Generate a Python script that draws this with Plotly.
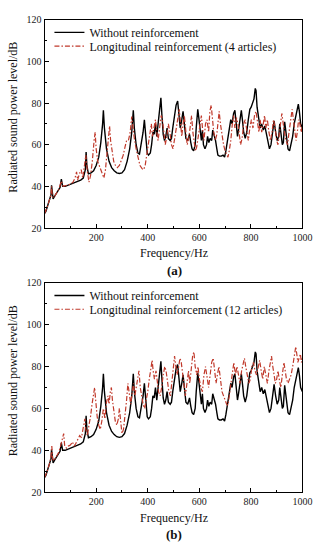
import plotly.graph_objects as go

# ---- data ----
freq_base = [0, 5, 10, 15, 20, 25, 27, 30, 33, 40, 50, 60, 65, 70, 80, 90, 100, 110, 120, 130, 140, 150,
             158, 161, 164, 170, 180, 190, 200, 210, 218, 225, 228, 232, 240, 250, 260, 270, 280, 290, 300,
             310, 320, 330, 338, 344, 348, 355, 362, 368, 375, 382, 387, 392, 398, 403, 410, 415, 420, 425,
             430, 435, 440, 446, 451, 455, 460, 465, 470, 475, 480, 487, 492, 497, 503, 510, 516, 520, 526,
             532, 537, 542, 548, 555, 562, 567, 572, 578, 584, 588, 594, 598, 604, 608, 612, 616, 622, 628,
             632, 637, 642, 648, 652, 658, 663, 668, 672, 678, 685, 692, 698, 703, 710, 716, 722, 727, 733,
             738, 742, 748, 752, 758, 763, 768, 772, 778, 784, 790, 796, 801, 806, 812, 817, 820, 824, 830,
             836, 842, 848, 854, 859, 864, 868, 872, 878, 884, 890, 896, 902, 908, 912, 916, 922, 926, 931,
             938, 944, 950, 955, 962, 968, 974, 979, 984, 988, 993, 1000]
level_base = [27, 28, 30, 32, 34, 36, 40.5, 35, 34, 35.5, 37.5, 39.5, 43.5, 40, 40, 40.5, 41, 41.5, 42, 42.5, 43, 44,
              48, 56.5, 50, 46, 46.5, 47.5, 50, 54, 61, 70, 76.5, 68, 58, 52, 49, 47.5, 46.5, 46.2, 46.5,
              48, 52, 58, 66, 76.5, 68, 60, 56, 55.5, 60, 66, 72, 63, 56, 55, 56, 60, 66, 65,
              70, 64, 70, 76, 82.5, 74, 65, 62, 64, 68, 63, 62, 63, 68, 74, 79, 81, 75, 68,
              72, 76, 70, 63, 62, 65, 61, 58, 57, 60, 68, 77, 73, 66, 62, 67, 60, 58, 60,
              64, 61, 63, 62, 67, 64, 62, 58, 55, 54.5, 54.5, 55, 54, 57, 62, 67, 72, 70, 75,
              76.5, 72, 64, 67, 74, 76.5, 71, 66, 63, 66, 72, 77, 78, 80, 82, 87, 86, 78, 72,
              68, 70, 67, 69, 66, 64, 60, 58, 60, 66, 71.5, 66, 62, 64, 70, 66, 60, 61, 71, 64,
              58, 57, 60, 64, 70, 74, 77, 79.5, 76, 70, 68, 68]

freq_4 = [0, 10, 20, 25, 27, 30, 35, 45, 55, 65, 72, 85, 100, 110, 118, 124, 128, 135, 142, 148, 155, 160,
          166, 172, 178, 185, 192, 196, 200, 206, 212, 218, 224, 230, 236, 242, 248, 252, 256, 262, 268,
          275, 282, 290, 297, 305, 312, 318, 325, 332, 338, 342, 348, 355, 362, 370, 378, 384, 390, 396,
          402, 408, 414, 418, 424, 430, 435, 440, 446, 452, 457, 462, 468, 474, 480, 486, 492, 498, 504,
          510, 516, 522, 527, 532, 537, 542, 548, 553, 559, 565, 570, 575, 580, 585, 590, 596, 602, 608,
          613, 618, 624, 630, 636, 641, 646, 650, 656, 662, 668, 672, 677, 682, 688, 694, 700, 706, 711,
          716, 722, 728, 733, 738, 744, 750, 755, 760, 766, 772, 778, 784, 790, 796, 802, 808, 814, 820,
          826, 831, 836, 842, 848, 853, 858, 864, 870, 876, 882, 888, 894, 900, 905, 910, 915, 920, 925,
          930, 936, 942, 948, 954, 960, 965, 970, 975, 980, 985, 990, 995, 1000]
level_4 = [27, 30, 34, 36, 40, 35, 34.5, 36.5, 38.5, 42.5, 40, 40.5, 41, 42, 44, 47, 43, 46, 48, 44, 50, 55,
           47, 42, 45, 52, 62, 66, 58, 52, 50, 48, 46, 44, 48, 56, 64, 69, 62, 56, 52,
           50, 49, 50, 52, 55, 59, 62, 62, 66, 73.5, 68, 63, 58, 54, 50, 48.5, 48, 50, 55,
           60, 66, 70, 64, 68, 72, 66, 62, 68, 74, 72, 66, 60, 64, 70, 66, 60, 58, 62,
           68, 72, 77, 70, 64, 70, 74, 66, 60, 63, 70, 74, 66, 60, 57, 59, 64, 70, 74,
           67, 62, 70, 72, 66, 76, 79, 72, 66, 62, 65, 70, 76, 70, 64, 60, 57, 55, 54,
           57, 62, 70, 74, 68, 73, 70, 65, 60, 63, 70, 72, 66, 62, 68, 72, 68, 74, 76,
           70, 66, 72, 66, 70, 74, 68, 72, 66, 62, 66, 72, 68, 62, 60, 64, 70, 75, 70,
           66, 62, 60, 66, 72, 77, 72, 66, 62, 66, 72, 70, 66, 70]

freq_12 = [0, 10, 20, 25, 28, 31, 36, 45, 55, 62, 68, 74, 78, 85, 92, 100, 108, 114, 120, 128, 136, 143,
           150, 156, 160, 166, 172, 178, 184, 190, 194, 198, 204, 210, 216, 222, 228, 234, 240, 246, 250,
           255, 259, 263, 268, 274, 280, 286, 290, 294, 300, 306, 312, 318, 323, 328, 334, 340, 345, 350,
           355, 360, 366, 371, 376, 382, 388, 394, 400, 406, 412, 417, 421, 426, 432, 437, 442, 448, 454,
           460, 466, 471, 476, 482, 488, 494, 499, 504, 509, 514, 520, 525, 530, 535, 540, 546, 552, 558,
           563, 568, 574, 579, 584, 590, 595, 600, 606, 612, 618, 624, 630, 636, 642, 648, 654, 660, 665,
           670, 676, 682, 688, 694, 700, 706, 711, 716, 722, 728, 734, 740, 746, 752, 758, 764, 770, 775,
           780, 786, 792, 798, 804, 810, 816, 822, 828, 834, 840, 846, 852, 858, 864, 870, 876, 880, 885,
           890, 895, 900, 905, 910, 916, 922, 928, 933, 938, 944, 950, 956, 962, 968, 974, 978, 982, 987,
           992, 996, 1000]
level_12 = [27, 30, 34, 37, 42, 36, 35, 37, 39, 42, 45, 48, 42, 41, 42, 42.5, 44, 42, 43, 45, 47, 46,
            51, 55, 50, 47, 52, 56, 62, 68, 70, 64, 56, 52, 50, 54, 60, 55, 63, 66, 62,
            68, 70, 64, 58, 54, 52, 55, 60, 56, 48, 50, 56, 64, 72, 66, 62, 68, 72, 66,
            70, 74, 78, 70, 66, 62, 60, 64, 68, 74, 80, 83, 78, 74, 78, 74, 68, 66, 70,
            76, 80, 78, 72, 68, 66, 74, 82, 85, 80, 76, 80, 84, 82, 76, 70, 66, 72, 78,
            72, 80, 85, 87, 80, 76, 80, 74, 70, 68, 76, 80, 74, 70, 76, 82, 84, 78, 72,
            76, 80, 74, 68, 66, 64, 62, 61.5, 66, 72, 78, 82, 76, 80, 76, 72, 78, 82, 84,
            80, 76, 72, 74, 80, 82, 78, 76, 80, 83, 78, 74, 80, 76, 72, 78, 82, 85, 80,
            76, 72, 74, 78, 74, 70, 76, 82, 78, 74, 72, 74, 76, 80, 85, 89.5, 86, 82, 84,
            86, 82, 84]

x_ticks = [200, 400, 600, 800, 1000]
y_ticks = [20, 40, 60, 80, 100, 120]
names = ["Without reinforcement", "Longitudinal reinforcement (4 articles)", "Longitudinal reinforcement (12 articles)"]
panel_labels = ["(a)", "(b)"]

W, H = 327, 550
FONT = "Liberation Serif"
BLACK = "#000000"
RED = "#c0392b"

fig = go.Figure()

xdom = [46 / W, 312 / W]
ydoms = [[1 - 227 / H, 1 - 14 / H], [1 - 497 / H, 1 - 283 / H]]
legend_centers = [(27, 41), (296, 310)]

series = [(freq_4, level_4, names[1]), (freq_12, level_12, names[2])]
legend_layouts = {}
for i, (fr, lv, nm) in enumerate(series):
    ax = "" if i == 0 else str(i + 1)
    lg_a = "legend" if i == 0 else "legend3"
    lg_b = "legend2" if i == 0 else "legend4"
    fig.add_trace(go.Scatter(x=freq_base, y=level_base, mode="lines", name=names[0],
                             line=dict(color=BLACK, width=1.4), xaxis="x" + ax, yaxis="y" + ax,
                             legend=lg_a))
    fig.add_trace(go.Scatter(x=fr, y=lv, mode="lines", name=nm,
                             line=dict(color=RED, width=1.2, dash="5px,2px,1.5px,2px"),
                             xaxis="x" + ax, yaxis="y" + ax, legend=lg_b))
    legend_layouts[lg_a] = legend_centers[i][0]
    legend_layouts[lg_b] = legend_centers[i][1]

axis_common = dict(showline=True, linecolor="black", linewidth=1, mirror=True, showgrid=False,
                   zeroline=False, ticks="inside", ticklen=4, tickcolor="black", tickwidth=1,
                   tickfont=dict(family=FONT, size=10, color="#222"))

layout = dict(width=W, height=H, margin=dict(l=0, r=0, t=0, b=0), paper_bgcolor="white",
              plot_bgcolor="white", showlegend=True, font=dict(family=FONT, color="#222"))

for i in range(2):
    sfx = "" if i == 0 else str(i + 1)
    layout["xaxis" + sfx] = dict(axis_common, domain=xdom, range=[0, 1000], tickvals=x_ticks,
                                 anchor="y" + sfx,
                                 minor=dict(dtick=100, tick0=0, ticks="inside", ticklen=2, tickcolor="black"))
    layout["yaxis" + sfx] = dict(axis_common, domain=ydoms[i], range=[20, 120], tickvals=y_ticks,
                                 anchor="x" + sfx,
                                 minor=dict(dtick=10, tick0=0, ticks="inside", ticklen=2, tickcolor="black"))

leg_common = dict(xanchor="left", yanchor="middle", bgcolor="rgba(0,0,0,0)", borderwidth=0,
                  font=dict(family=FONT, size=12, color="#111"), itemwidth=30)
for key, cy in legend_layouts.items():
    layout[key] = dict(leg_common, x=51 / W, y=1 - cy / H)

fig.update_layout(**layout)

for i in range(2):
    top_px = [14, 283][i]
    bot_px = [227, 497][i]
    fig.add_annotation(text="Frequency/Hz", xref="paper", yref="paper", x=179 / W,
                       y=1 - (bot_px + 26) / H, showarrow=False, xanchor="center", yanchor="middle",
                       font=dict(family=FONT, size=12, color="#111"))
    fig.add_annotation(text="<b>" + panel_labels[i] + "</b>", xref="paper", yref="paper", x=180 / W,
                       y=1 - (bot_px + 43) / H, showarrow=False, xanchor="center", yanchor="middle",
                       font=dict(family=FONT, size=13, color="#111"))
    fig.add_annotation(text="Radiated sound power level/dB", xref="paper", yref="paper", x=13 / W,
                       y=1 - ((top_px + bot_px) / 2 - 7) / H, showarrow=False, textangle=-90,
                       xanchor="center", yanchor="middle",
                       font=dict(family=FONT, size=12, color="#111"))

fig.write_html("out.html", config={"displayModeBar": False},
               post_script="document.body.style.margin='0';document.body.style.overflow='hidden';")
